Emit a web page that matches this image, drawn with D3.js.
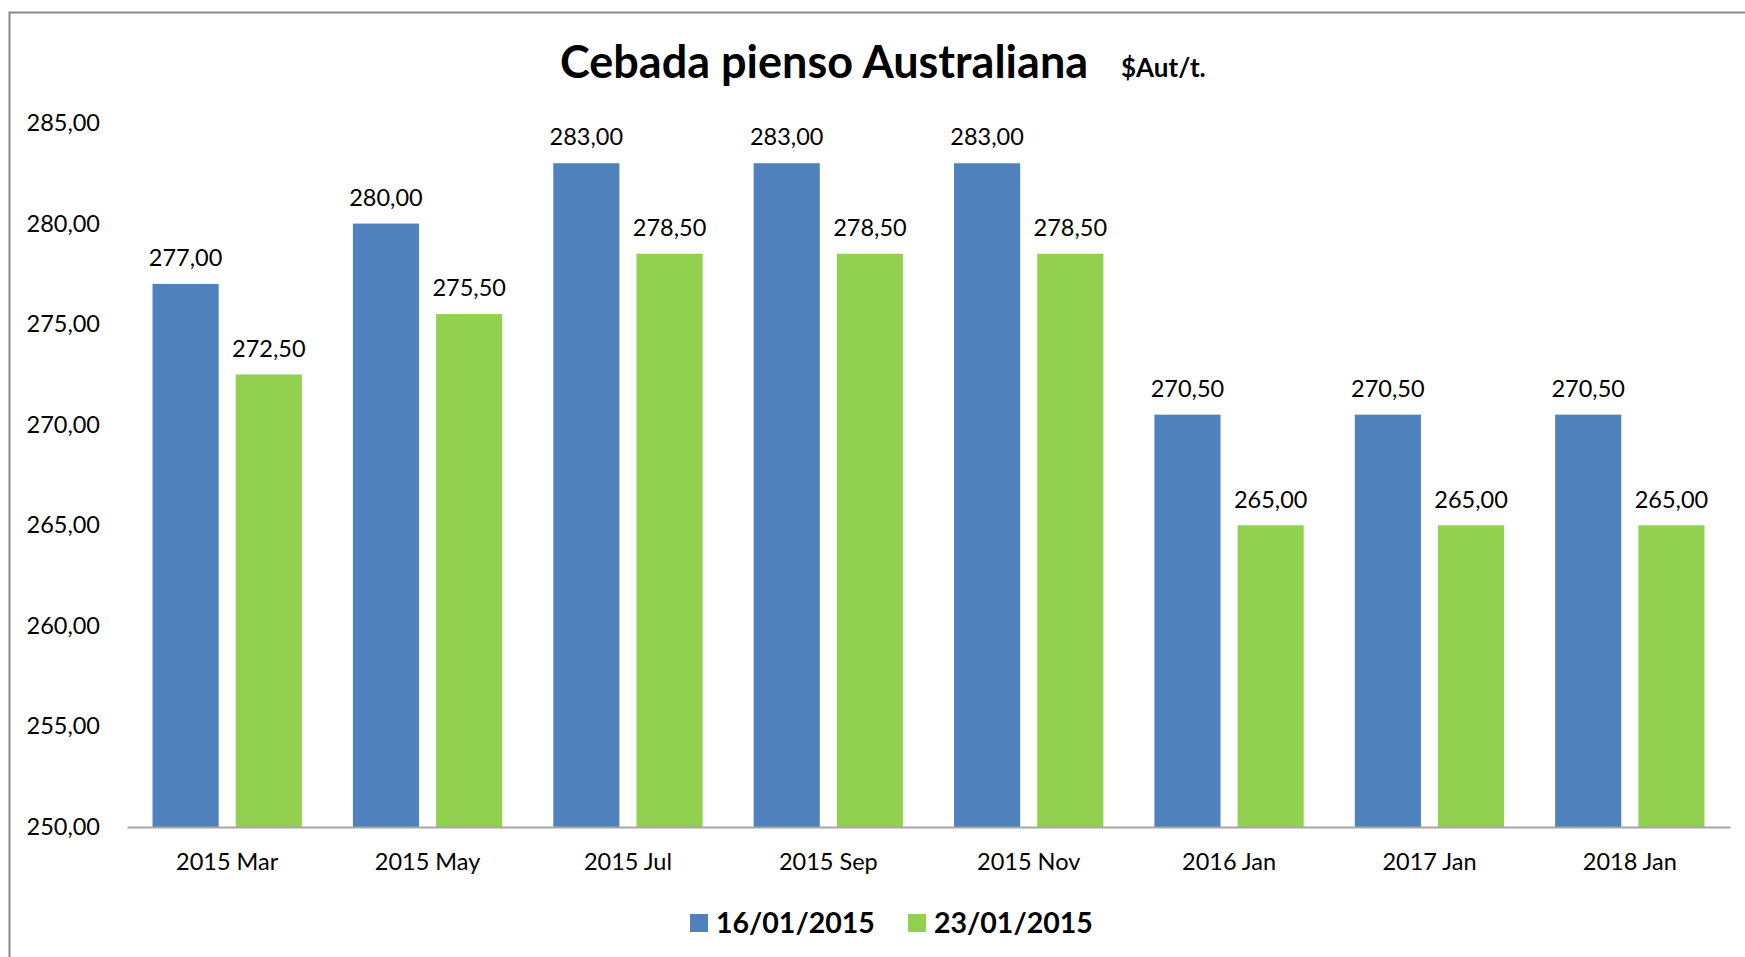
<!DOCTYPE html>
<html lang="es">
<head>
<meta charset="utf-8">
<title>Cebada pienso Australiana</title>
<script src="https://d3js.org/d3.v7.min.js"></script>
<style>
  body { margin: 0; background: #fff; }
  svg text { font-family: Lato, "Open Sans", sans-serif; fill: #000; }
</style>
</head>
<body>
<div id="chart"></div>
<script>
// datos
var categories = ["2015 Mar", "2015 May", "2015 Jul", "2015 Sep", "2015 Nov", "2016 Jan", "2017 Jan", "2018 Jan"];
var seriesNames = ["16/01/2015", "23/01/2015"];
var values16 = [277.00, 280.00, 283.00, 283.00, 283.00, 270.50, 270.50, 270.50];
var values23 = [272.50, 275.50, 278.50, 278.50, 278.50, 265.00, 265.00, 265.00];
var yTicks = [250, 255, 260, 265, 270, 275, 280, 285];
var colors = ["#4f81bd", "#92d050"];

var width = 1745, height = 957;
var plotLeft = 127, plotRight = 1730;
var plotTop = 123, plotBottom = 827;

var svg = d3.select("#chart").append("svg")
  .attr("width", width)
  .attr("height", height);

// marco
svg.append("rect")
  .attr("x", 9.5).attr("y", 12.5)
  .attr("width", width + 20).attr("height", height + 20)
  .attr("fill", "none")
  .attr("stroke", "#898989")
  .attr("stroke-width", 2);

var fmt = function(v) { return d3.format(".2f")(v).replace(".", ","); };

var y = d3.scaleLinear().domain([250, 285]).range([plotBottom, plotTop]);
var x0 = d3.scaleBand().domain(categories).range([plotLeft, plotRight]).padding(0);
var x1 = d3.scaleBand().domain(seriesNames).range([0, x0.bandwidth()])
  .paddingInner(0.205).paddingOuter(0.307);

// eje y (solo etiquetas)
var yAxis = d3.axisLeft(y).tickValues(yTicks).tickFormat(fmt).tickSize(0).tickPadding(0);
var gy = svg.append("g").attr("transform", "translate(100,0)").call(yAxis);
gy.select(".domain").remove();
gy.selectAll("text").style("font-size", "23.5px").attr("font-family", null);

// barras
var rows = categories.map(function(c, i) {
  return { cat: c, vals: [values16[i], values23[i]] };
});

var groups = svg.selectAll("g.cat")
  .data(rows)
  .enter()
  .append("g")
  .attr("class", "cat")
  .attr("transform", function(d) { return "translate(" + x0(d.cat) + ",0)"; });

groups.selectAll("rect")
  .data(function(d) { return d.vals.map(function(v, j) { return { s: seriesNames[j], v: v, j: j }; }); })
  .enter()
  .append("rect")
  .attr("x", function(d) { return x1(d.s); })
  .attr("y", function(d) { return y(d.v); })
  .attr("width", x1.bandwidth())
  .attr("height", function(d) { return plotBottom - y(d.v); })
  .attr("fill", function(d) { return colors[d.j]; });

groups.selectAll("text.val")
  .data(function(d) { return d.vals.map(function(v, j) { return { s: seriesNames[j], v: v }; }); })
  .enter()
  .append("text")
  .attr("class", "val")
  .attr("x", function(d) { return x1(d.s) + x1.bandwidth() / 2; })
  .attr("y", function(d) { return y(d.v) - 26; })
  .attr("dy", "0.35em")
  .attr("text-anchor", "middle")
  .style("font-size", "23.5px")
  .text(function(d) { return fmt(d.v); });

// eje x
var xAxis = d3.axisBottom(x0).tickSize(0).tickPadding(0);
var gx = svg.append("g").attr("transform", "translate(0," + plotBottom + ")").call(xAxis);
gx.select(".domain").attr("stroke", "#a6a6a6").attr("stroke-width", 2);
gx.selectAll("text")
  .attr("font-family", null)
  .style("font-size", "23.5px")
  .attr("y", 35)
  .attr("dy", "0.35em");

// titulo
svg.append("text")
  .attr("x", 560).attr("y", 78)
  .style("font-size", "45px")
  .style("font-weight", "bold")
  .text("Cebada pienso Australiana");
svg.append("text")
  .attr("x", 1121).attr("y", 77)
  .style("font-size", "26px")
  .style("font-weight", "bold")
  .text("$Aut/t.");

// leyenda
var legendX = [690, 908];
var legend = svg.selectAll("g.leg")
  .data(seriesNames)
  .enter()
  .append("g")
  .attr("class", "leg")
  .attr("transform", function(d, i) { return "translate(" + legendX[i] + ",914)"; });
legend.append("rect")
  .attr("width", 18).attr("height", 18)
  .attr("fill", function(d, i) { return colors[i]; });
legend.append("text")
  .attr("x", 26).attr("y", 9)
  .attr("dy", "0.36em")
  .style("font-size", "28.5px")
  .style("font-weight", "bold")
  .text(function(d) { return d; });
</script>
</body>
</html>
